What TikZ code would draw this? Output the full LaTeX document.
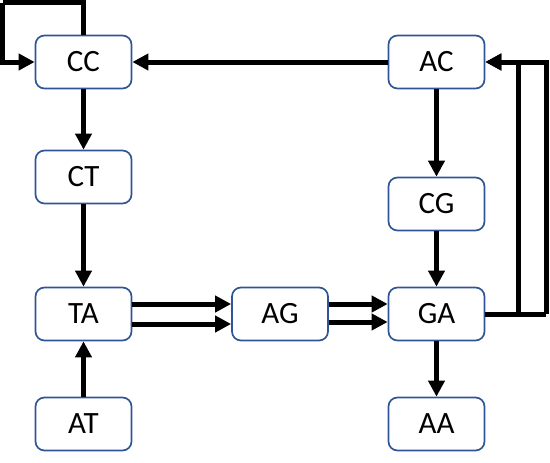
\documentclass[tikz,border=0pt]{standalone}
\usepackage{fontspec}
\setmainfont{Carlito}
\usepackage{tikz}
\usetikzlibrary{arrows.meta}
\definecolor{boxblue}{RGB}{47,85,151}
\tikzset{state box/.style={draw=boxblue, line width=1.7pt, rounded corners=9pt,
           minimum width=96pt, minimum height=53pt, inner sep=0pt,
           font=\fontsize{31}{36}\selectfont},
     flow/.style={line width=5pt, -{Triangle[length=16pt,width=16pt]}}
     }
\def\StateBox#1#2#3{%
 \node[state box] (#1) at (#2,#3) {#1};
}

\begin{document}
\begin{tikzpicture}[x=1pt,y=-1pt]
\useasboundingbox (0,0) rectangle (550,463);
\StateBox{CC}{83.5}{62}
\StateBox{AC}{436.5}{62}
\StateBox{CT}{83.5}{177}
\StateBox{CG}{436.5}{204}
\StateBox{TA}{83.5}{314}
\StateBox{AG}{280}{314}
\StateBox{GA}{436.5}{314}
\StateBox{AT}{83.5}{424}
\StateBox{AA}{436.5}{424}
\coordinate (loop) at (2.8,2.8);
\coordinate (back1) at (518,314);
\coordinate (back2) at (546,314);
%\draw[flow] (CC.north) |- (loop) |- (CC.west);
\draw[line width=5pt] (CC.north) |- (loop);
\draw[flow] (loop) |- (CC.west);
\draw[flow] (AC) -- (CC);
\draw[flow] (CC) -- (CT);
\draw[flow] (CT) -- (TA);
\draw[flow] (AT) -- (TA);
\draw[flow] (AC) -- (CG);
\draw[flow] (CG) -- (GA);
\draw[flow] (GA) -- (AA);
\draw[flow] ([yshift=10pt]TA.east) -- ([yshift=10pt]AG.west);
\draw[flow] ([yshift=-10pt]TA.east) -- ([yshift=-10pt]AG.west);
\draw[flow] ([yshift=10pt]AG.east) -- ([yshift=10pt]GA.west);
\draw[flow] ([yshift=-8pt]AG.east) -- ([yshift=-8pt]GA.west);
\draw[line width=5pt] (GA.east) -- (back2);
\draw[flow] (back1) |- (AC.east);
\draw[flow] (back2) |- (AC.east);
\end{tikzpicture}
\end{document}
